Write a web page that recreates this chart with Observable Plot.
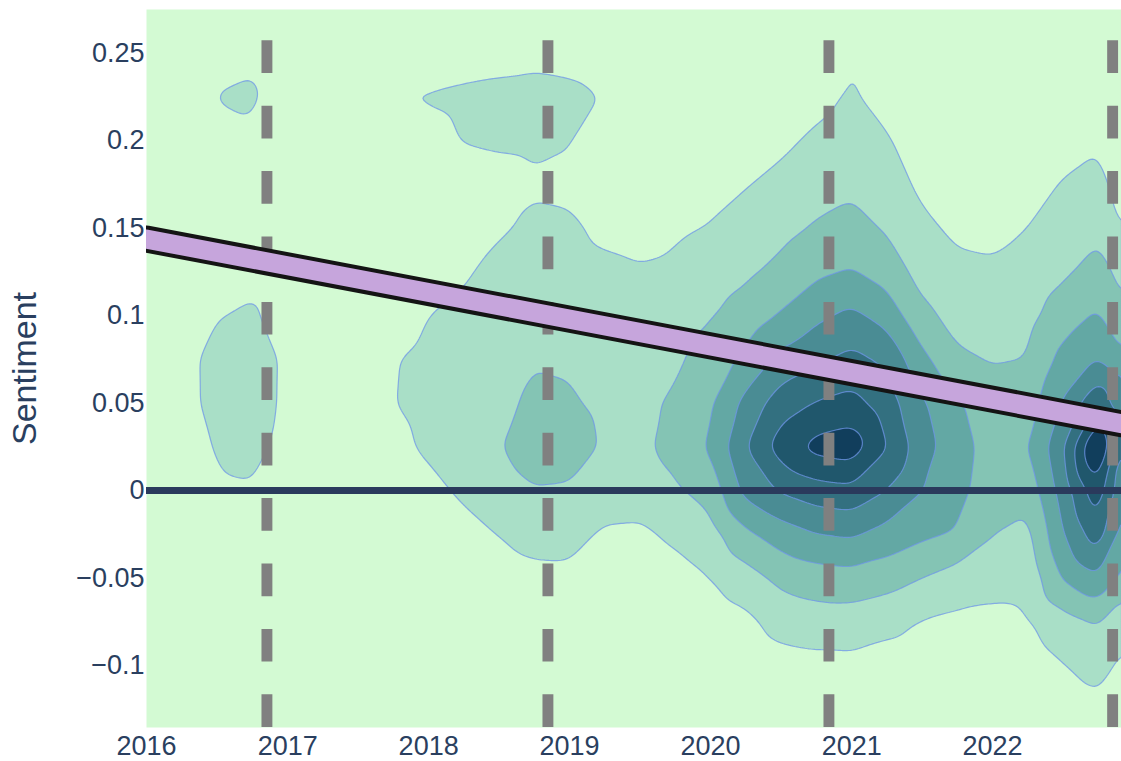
<!DOCTYPE html>
<html><head><meta charset="utf-8">
<script src="https://cdn.jsdelivr.net/npm/d3@7"></script>
<script src="https://cdn.jsdelivr.net/npm/@observablehq/plot@0.6"></script>
<style>html,body{margin:0;padding:0;background:#fff;}</style>
</head><body><div id="chart"></div>
<script>
// Density grid (estimated counts, in contour-level units)
const gridDates = ["2016-01-01","2016-04-01","2016-07-01","2016-10-01",
  "2017-01-01","2017-04-01","2017-07-01","2017-10-01",
  "2018-01-01","2018-04-01","2018-07-01","2018-10-01",
  "2019-01-01","2019-04-01","2019-07-01","2019-10-01",
  "2020-01-01","2020-04-01","2020-07-01","2020-10-01",
  "2021-01-01","2021-04-01","2021-07-01","2021-10-01",
  "2022-01-01","2022-04-01","2022-07-01","2022-10-01",
  "2023-01-01"];
const gridSentiment = [0.275,0.25,0.225,0.2,0.175,0.15,0.125,0.1,0.075,0.05,0.025,0,-0.025,-0.05,-0.075,-0.1,-0.125,-0.15];
const densityGrid = [
 [0,0,0,0, 0,0,0,0, 0,0,0,0, 0,0,0,0, 0,0,0,0, 0.3,0,0,0, 0,0,0,0, 0],
 [0,0,0.55,0.7, 0,0,0,0, 0.2,0.4,0.55,0.6, 0.5,0.3,0,0, 0,0,0,0.3, 0.97,0,0,0, 0,0,0,0, 0],
 [0,0.3,1.05,1.25, 0,0,0.5,1.0, 1.1,1.25,1.35,1.5, 1.35,0.94,0.3,0, 0,0.1,0.35,0.7, 1.13,0.6,0,0, 0,0,0.28,0.43, 0],
 [0,0,0.6,0.7, 0,0,0,0.3, 0.6,1.05,1.15,1.2, 1.05,0.5,0.1,0, 0.25,0.5,0.8,1.17, 1.47,1.12,0.4,0, 0,0.3,0.66,0.875, 0],
 [0,0,0,0, 0,0,0,0, 0.2,0.4,0.6,0.86, 0.8,0.35,0,0.25, 0.65,0.95,1.25,1.61, 1.81,1.5,0.8,0.4, 0.35,0.65,1.05,1.33, 0.2],
 [0,0,0,0, 0,0,0,0, 0.2,0.4,0.85,1.22, 1.15,0.8,0.6,0.85, 1.07,1.38,1.7,2.1, 2.33,1.9,1.23,0.8, 0.75,1.0,1.45,1.79, 0.5],
 [0,0,0.3,0.55, 0.1,0,0,0.2, 0.55,0.85,1.35,1.4, 1.35,1.2,1.1,1.21, 1.5,1.82,2.28,2.8, 3.07,2.58,1.66,1.25, 1.15,1.35,1.83,2.38, 1.4],
 [0,0,0.9,1.25, 0.1,0.1,0,0.6, 1.0,1.25,1.5,1.55, 1.5,1.45,1.35,1.52, 1.93,2.43,3.08,3.78, 4.23,3.63,2.25,1.7, 1.5,1.7,2.5,3.14, 1.8],
 [0,0.26,1.7,1.8, 0.68,0.15,0.4,0.95, 1.2,1.4,1.65,1.95, 1.9,1.65,1.55,1.82, 2.45,3.22,4.27,4.81, 5.28,4.78,3.3,2.15, 1.95,2.02,3.3,4.04, 2.7],
 [0,0.26,1.65,1.75, 0.66,0.15,0.45,0.98, 1.25,1.5,1.8,2.15, 2.1,1.82,1.75,2.15, 2.85,4.3,5.55,6.05, 6.33,5.5,4.15,3.15, 2.35,2.5,4.05,5.95, 3.0],
 [0,0.1,1.15,1.4, 0.5,0.1,0.3,0.75, 1.15,1.45,1.94,2.45, 2.4,1.9,1.8,2.3, 3.12,4.95,6.5,7.35, 7.6,6.05,4.45,3.4, 2.6,2.9,4.8,8.5, 3.0],
 [0,0.1,0.8,0.88, 0.3,0,0.15,0.4, 0.75,1.15,1.6,1.95, 1.9,1.55,1.5,1.85, 2.4,4.3,5.1,5.57, 5.74,5.0,4.0,3.3, 2.45,2.35,4.4,6.73, 2.9],
 [0,0,0.2,0.2, 0,0,0,0.1, 0.3,0.7,1.02,1.4, 1.35,0.85,0.8,1.2, 1.62,2.78,3.48,3.97, 4.14,3.64,3.2,2.9, 2.02,1.7,3.9,5.6, 2.5],
 [0,0,0,0, 0,0,0,0, 0,0.2,0.5,0.7, 0.75,0.35,0.3,0.6, 1.0,1.58,2.24,2.51, 2.63,2.42,2.0,1.57, 1.35,1.3,3.06,3.9, 2.2],
 [0,0,0,0, 0,0,0,0, 0,0,0.05,0.2, 0.2,0,0,0.2, 0.45,0.75,1.39,1.54, 1.52,1.28,0.95,0.8, 0.75,0.9,1.6,2.08, 1.0],
 [0,0,0,0, 0,0,0,0, 0,0,0,0, 0,0,0,0, 0.05,0.3,0.6,0.7, 0.75,0.6,0.5,0.4, 0.35,0.5,0.95,1.4, 0.5],
 [0,0,0,0, 0,0,0,0, 0,0,0,0, 0,0,0,0, 0,0,0.2,0.3, 0.3,0.2,0.1,0, 0,0.2,0.4,0.7, 0.1],
 [0,0,0,0, 0,0,0,0, 0,0,0,0, 0,0,0,0, 0,0,0,0, 0,0,0,0, 0,0,0,0, 0]
];
const contourLevels = [1,2,3,4,5,6,7];
const levelColors = ["#a9dfc7","#84c4b4","#63a8a4","#4a8c94","#337080","#20576c","#113e5c"];

// Election days (dashed verticals)
const electionDates = ["2016-11-08","2018-11-06","2020-11-03","2022-11-08"];
// Linear trend end points
const trendDates = ["2016-01-01","2022-12-01"];
const trendSentiment = [0.1437, 0.0382];
// Axes
const xDomain = ["2016-01-01","2022-12-01"];
const yDomain = [-0.1354, 0.2749];
const yearTicks = [2016,2017,2018,2019,2020,2021,2022];
const sentimentTicks = [-0.1,-0.05,0,0.05,0.1,0.15,0.2,0.25];

const parse = d3.utcParse("%Y-%m-%d");
const cells = [];
gridSentiment.forEach((s, i) => gridDates.forEach((d, j) => cells.push({date: parse(d), s, v: densityGrid[i][j]})));
const trend = trendDates.map((d, i) => ({date: parse(d), s: trendSentiment[i]}));
const elections = electionDates.map(parse);

const chart = Plot.plot({
  width: 1121, height: 761,
  marginLeft: 146, marginRight: 0, marginTop: 9, marginBottom: 34,
  style: {fontFamily: '"Liberation Sans", Arial, sans-serif', fontSize: "27px", color: "#2a3f5f", background: "#ffffff"},
  x: {type: "utc", domain: xDomain.map(parse), ticks: yearTicks.map(y => new Date(Date.UTC(y, 0, 1))),
      tickFormat: d3.utcFormat("%Y"), tickSize: 0, tickPadding: 8, label: null},
  y: {domain: yDomain, ticks: sentimentTicks, tickFormat: d3.format(""), tickSize: 0, tickPadding: 2, label: null},
  color: {type: "ordinal", domain: contourLevels, range: levelColors},
  marks: [
    Plot.frame({fill: "#d3fad3", stroke: "none"}),
    Plot.contour(cells, {x: "date", y: "s", value: "v", fill: "value", thresholds: contourLevels,
      interpolate: "barycentric", blur: 2.5, pixelSize: 2,
      stroke: "#6f95e8", strokeOpacity: 0.75, strokeWidth: 1.2, clip: true}),
    Plot.ruleX(elections, {x: d => d, y1: () => yDomain[0], y2: () => yDomain[1],
      stroke: "#808080", strokeWidth: 10.9, strokeDasharray: "32.7,32.7"}),
    Plot.ruleY([0], {stroke: "#2a3a5c", strokeWidth: 7}),
    Plot.line(trend, {x: "date", y: "s", stroke: "#141414", strokeWidth: 27, clip: true}),
    Plot.line(trend, {x: "date", y: "s", stroke: "#c6a5dc", strokeWidth: 19, clip: true}),
    Plot.text(["Sentiment"], {frameAnchor: "left", dx: -121, rotate: -90, textAnchor: "middle", fontSize: 34, fill: "#2a3f5f"})
  ]
});
document.getElementById("chart").appendChild(chart);
</script>
</body></html>
